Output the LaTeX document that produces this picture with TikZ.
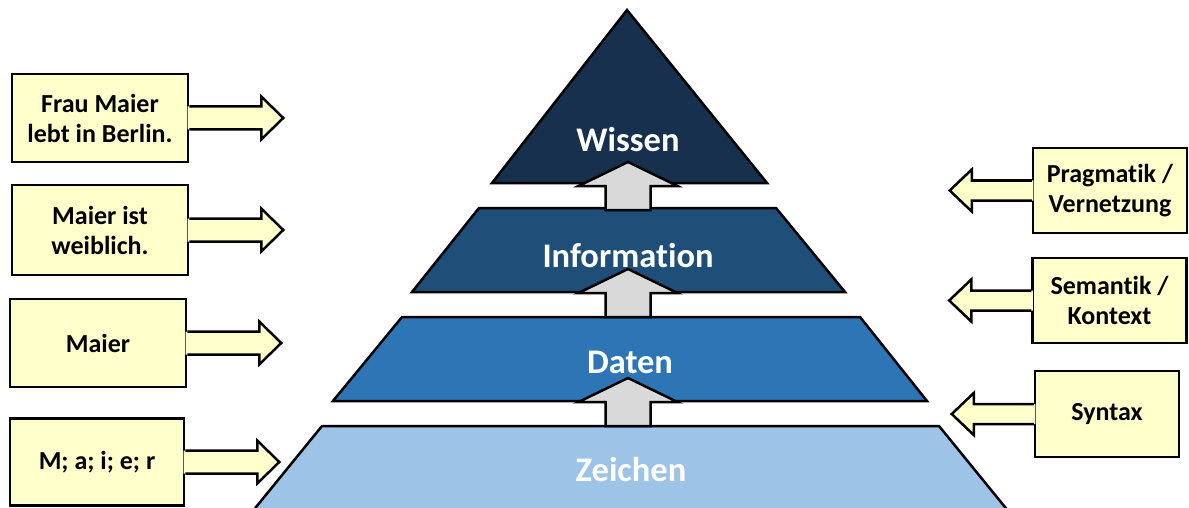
\documentclass[tikz,border=0pt]{standalone}
\usepackage{fontspec}
\setmainfont{Carlito}[Ligatures=NoCommon]
\usetikzlibrary{positioning}
\definecolor{wissenblue}{RGB}{22,48,78}
\definecolor{infoblue}{RGB}{31,78,121}
\definecolor{datenblue}{RGB}{46,117,182}
\definecolor{zeichenblue}{RGB}{157,195,230}
\definecolor{callyellow}{RGB}{255,255,204}
\definecolor{arrowgray}{RGB}{217,217,217}
\tikzset{
    layer/.style={draw=black, line width=2.5pt, line join=miter},
    layertext/.style={text=white, font=\fontsize{34.5}{40}\selectfont\bfseries, anchor=base, inner sep=0pt},
    callbox/.style={draw=black, line width=2.5pt, fill=callyellow, align=center, inner sep=0pt, font=\fontsize{26}{30}\selectfont\bfseries},
    callboxL/.style={callbox, minimum width=176pt, minimum height=88pt},
    callboxR/.style={callbox, minimum width=154pt, minimum height=85pt},
    callline/.style={draw=black, line width=2.5pt, line join=miter},
    rarrow/.pic={
        \fill[callyellow] (-1.6,-11.5) -- (72,-11.5) -- (72,-21.5) -- (94,0) -- (72,21.5) -- (72,11.5) -- (-1.6,11.5) -- cycle;
        \draw[callline] (0,-11.5) -- (72,-11.5) -- (72,-21.5) -- (94,0) -- (72,21.5) -- (72,11.5) -- (0,11.5);
    },
    larrow/.pic={
        \fill[callyellow] (1.6,-10) -- (-60,-10) -- (-60,-21) -- (-82,0) -- (-60,21) -- (-60,10) -- (1.6,10) -- cycle;
        \draw[callline] (0,-10) -- (-60,-10) -- (-60,-21) -- (-82,0) -- (-60,21) -- (-60,10) -- (0,10);
    },
    uparrow/.pic={
        \draw[callline, fill=arrowgray] (-22.5,0) -- (-22.5,-24) -- (-49.5,-24) -- (0,-48) -- (49.5,-24) -- (22.5,-24) -- (22.5,0) -- cycle;
    }
}
\begin{document}
\begin{tikzpicture}[x=1pt,y=-1pt]
    \clip (0,0) rectangle (1189,508);

    % pyramid
    \draw[layer, fill=wissenblue] (627,10) -- (767,183) -- (492,183) -- cycle;
    \draw[layer, fill=infoblue] (479,208) -- (776,208) -- (845,292) -- (412,292) -- cycle;
    \draw[layer, fill=datenblue] (402,317) -- (860,317) -- (927,401) -- (333,401) -- cycle;
    \draw[layer, fill=zeichenblue] (322,426) -- (939,426) -- (1009,512) -- (252,512) -- cycle;

    \pic at (628,210) {uparrow};
    \pic at (628,317) {uparrow};
    \pic at (628,426) {uparrow};

    \node[layertext] (wissen) at (628,152) {Wissen};
    \node[layertext] (info) at (628,267) {Information};
    \node[layertext] (daten) at (630,373) {Daten};
    \node[layertext] (zeichen) at (631,481) {Zeichen};

    % left side
    \node[callboxL] (frau) at (100,118) {Frau Maier\\lebt in Berlin.};
    \node[callboxL, minimum height=90pt] (weib) at (100,230) {Maier ist\\weiblich.};
    \node[callboxL] (maier) at (98,343) {Maier};
    \node[callboxL, minimum width=174pt, minimum height=87pt] (buchst) at (97,462) {M; a; i; e; r};
    \pic at (frau.east) {rarrow};
    \pic at (weib.east) {rarrow};
    \pic at (maier.east) {rarrow};
    \pic at (buchst.east) {rarrow};

    % right side
    \node[callboxR] (prag) at (1110,190.5) {Pragmatik /\\Vernetzung};
    \node[callboxR] (sem) at (1109.5,300.5) {Semantik /\\Kontext};
    \node[callboxR, minimum width=144pt, minimum height=86pt] (syn) at (1107,414) {Syntax};
    \pic at (prag.west) {larrow};
    \pic at (sem.west) {larrow};
    \pic at (syn.west) {larrow};
\end{tikzpicture}
\end{document}
